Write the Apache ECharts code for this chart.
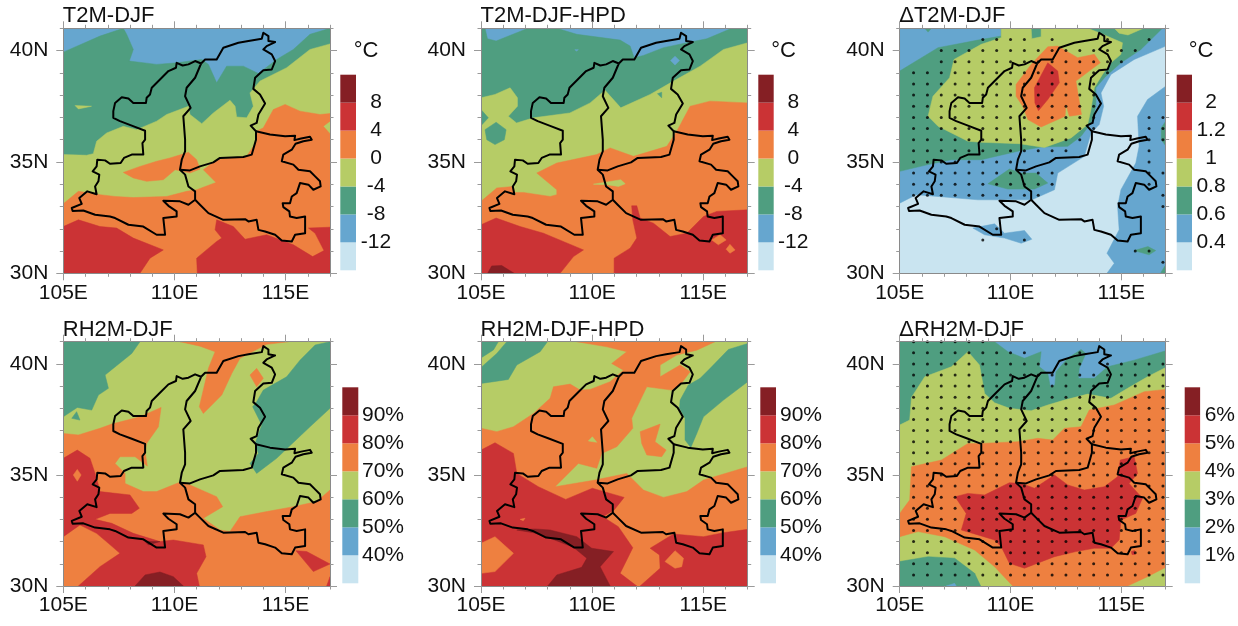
<!DOCTYPE html>
<html><head><meta charset="utf-8">
<style>html,body{margin:0;padding:0;background:#fff}#c{width:1238px;height:626px}</style>
<script src="https://cdn.jsdelivr.net/npm/echarts@6/dist/echarts.min.js"></script>
</head><body><div id="c"></div>
<script>
const lonTicks=[105,110,115], latTicks=[30,35,40];
const bandColors=['#c9e4f0','#66a6cf','#4f9e80','#b6cc66','#ee8040','#cb3335','#851f24'];
const tempLabels=['-12','-8','-4','0','4','8'];
const dTempLabels=['0.4','0.6','0.8','1','1.2','2'];
const rhLabels=['40%','50%','60%','70%','80%','90%'];
const dRhLabels=['1%','2%','3%','4%','5%','6%'];
const titles=['T2M-DJF','T2M-DJF-HPD','\u0394T2M-DJF','RH2M-DJF','RH2M-DJF-HPD','\u0394RH2M-DJF'];

const shaanxi=[[111.2,39.42],[110.93,39.53],[110.63,39.38],[110.37,39.33],[110.1,39.45],[110.07,39.23],[109.73,39.08],[109.35,38.7],[108.98,38.33],[108.9,38.03],[108.75,37.88],[108.72,37.65],[108.15,37.65],[107.93,37.85],[107.63,37.9],[107.33,37.65],[107.25,37.28],[107.25,36.98],[107.55,36.83],[108.08,36.63],[108.68,36.4],[108.68,36],[108.56,35.85],[108.6,35.33],[108.08,35.33],[107.73,35.18],[107.58,34.95],[107.1,34.92],[106.88,35.07],[106.53,35.1],[106.5,34.8],[106.32,34.58],[106.62,34.43],[106.58,34.13],[106.43,33.9],[106.5,33.55],[106.08,33.68],[105.72,33.38],[105.83,33.12],[105.38,32.93],[105.42,32.8],[105.9,32.82],[106.43,32.63],[107.1,32.55],[107.33,32.48],[107.93,32.18],[108.6,32.1],[109.2,31.73],[109.58,31.73],[109.5,32.48],[110.1,32.55],[110.1,32.78],[109.73,33.03],[109.5,33.26],[110.25,33.23],[110.63,33.08],[110.93,33.3],[110.93,33.68],[110.63,33.9],[110.48,34.43],[110.25,34.65],[110.33,35.1],[110.48,35.48],[110.48,36],[110.4,37.05],[110.73,37.43],[110.48,37.95],[110.55,38.33],[110.93,38.78],[111.2,39.42]];
const shanxi=[[111.2,39.42],[111.38,39.6],[111.9,39.6],[112.2,40.13],[112.88,40.35],[113.33,40.43],[113.93,40.53],[114,40.8],[114.23,40.65],[114.23,40.43],[114.53,40.38],[114.15,40.2],[114,40.05],[114.38,39.83],[114.53,39.53],[114.38,39.15],[114,39.12],[113.63,38.78],[113.55,38.28],[113.85,38.03],[114.08,37.62],[113.78,37.13],[113.7,36.75],[113.43,36.63],[113.67,36.38],[113.67,36],[113.48,35.33],[113.1,35.22],[112.05,35.18],[111.75,34.98],[111.15,34.8],[110.7,34.62],[110.25,34.65]];
const henan=[[113.67,36.38],[114.3,36.23],[114.98,36.15],[115.43,36.18],[115.4,35.98],[115.7,36.05],[116.1,36.13],[116.18,36],[115.8,35.93],[115.45,35.82],[115.28,35.55],[114.9,35.33],[114.83,35.03],[115.35,34.88],[115.58,34.65],[116.1,34.58],[116.33,34.35],[116.55,34.13],[116.58,33.9],[116.25,33.75],[116.03,33.98],[115.65,34.05],[115.5,33.6],[115.28,33.45],[115.2,33.15],[114.87,33.15],[114.9,32.97],[115.17,32.78],[115.2,32.55],[115.5,32.48],[115.88,32.55],[115.88,31.8],[115.43,31.73],[115.28,31.43],[114.83,31.47],[114.53,31.73],[114.08,31.88],[113.78,31.95],[113.7,32.4],[113.33,32.33],[113.18,32.43],[112.2,32.4],[111.53,32.7],[111.15,33.08],[110.93,33.3]];

const WHOLE=[[105,30],[117,30],[117,41],[105,41]];
const t2m=[[1,WHOLE],
[2,[[105,39.93],[106.65,40.65],[107.7,41],[107.85,40.73],[108.15,40.05],[107.97,39.53],[109.2,39.38],[110.1,39.45],[111.23,39.6],[111.53,39.38],[111.9,38.55],[112.35,39.3],[113.1,39.3],[113.78,38.97],[114.6,39.6],[115.35,40.05],[116.1,40.73],[117,41],[117,30],[105,30]]],
[3,[[105,35.33],[106.05,35.3],[106.35,35.37],[106.5,35.93],[106.95,36.3],[107.7,36.6],[108.3,36.45],[109.2,36.83],[109.65,37.13],[110.63,37.5],[110.7,37.13],[111.23,36.72],[111.75,37.2],[112.5,37.77],[112.73,37.5],[112.8,37.02],[113.25,36.98],[113.55,37.5],[113.4,38.1],[113.85,38.63],[115.05,39.23],[116.1,40.05],[117,40.3],[117,30],[105,30]]],
[3,[[105.53,37.53],[106.27,37.5],[105.68,37.38]]],
[4,[[105,33.12],[105.68,33.68],[106.65,33.53],[107.33,33.45],[108.15,33.4],[109.65,33.45],[110.55,33.68],[111,33.75],[111.87,34.08],[111.3,34.65],[111.9,35.1],[113.25,35.25],[113.7,35.93],[113.7,36.38],[114,36.53],[114.45,37.35],[114.98,37.58],[115.65,37.28],[116.55,37.13],[117,37.17],[117,36.83],[116.7,36.6],[117,36.27],[117,30],[105,30]]],
[4,[[107.7,34.53],[108.45,34.8],[109.2,35.03],[109.8,35.18],[110.63,35.43],[111,35.1],[111.15,34.68],[110.7,34.5],[110.03,34.65],[109.5,34.2],[108.75,34.13],[108.15,34.28]]],
[5,[[105,32.1],[105.68,32.4],[106.65,32.1],[107.4,32.03],[108.15,31.58],[109.5,31.05],[108.9,30.68],[108.45,30],[105,30]]],
[5,[[111.03,30],[111,30.68],[111.9,31.43],[112.13,31.58],[111.83,31.95],[111.9,32.4],[112.65,32.1],[113.18,31.53],[114.15,31.73],[115.35,31.28],[116.22,30.75],[116.73,31.02],[116.33,31.8],[116.03,32.03],[117,32.07],[117,30]]]];

const t2mHpd=[[1,WHOLE],
[2,[[105.18,41],[105.29,40.53],[105.68,40.43],[107.06,40.98],[108.48,40.98],[109.31,40.73],[111.26,40.47],[111.71,40.2],[111.89,39.68],[112.31,39.78],[113.21,40.13],[114.26,40.35],[115.16,40.53],[116.28,41],[117,41],[117,30],[105,30],[105,41]]],
[1,[[113.73,39.75],[113.93,39.55],[113.73,39.35],[113.53,39.55]]],
[1,[[109.22,40.04],[109.38,40.04],[109.3,39.98]]],
[3,[[105,37.88],[105.63,38.03],[106.31,38.33],[106.64,37.88],[106.64,37.5],[106.23,37.05],[106.6,36.75],[107.36,36.98],[109,37.2],[109.91,37.65],[110.58,38.22],[111.29,37.43],[112.61,38.03],[113.66,38.63],[114.86,39.3],[115.91,40.05],[117,40.35],[117,30],[105,30]]],
[2,[[105,37.35],[105.33,36.98],[105,36.63]]],
[2,[[105.18,36.45],[105.68,36.78],[106.13,36.45],[106.05,36],[105.63,35.78],[105.26,36]]],
[2,[[112.94,38.06],[113.13,38.13],[113.13,37.88]]],
[4,[[105,33.23],[105.71,33.83],[106.46,33.9],[106.49,33.63],[106.91,33.63],[108.11,33.45],[108.41,33.53],[108.41,33.75],[107.51,34.5],[108.41,34.95],[110.21,35.33],[110.81,35.63],[111.86,35.25],[113.36,35.7],[113.81,36.38],[114.41,37.5],[115.31,37.73],[117,37.65],[117,30],[105,30]]],
[3,[[110.06,34],[111.29,34.2],[111.49,34.02],[111.19,33.9],[110.66,33.98]]],
[5,[[105,32.18],[105.68,32.48],[106.76,32.1],[107.81,31.8],[109.61,31.05],[109.16,30.75],[108.56,30],[105,30]]],
[5,[[110.99,30],[110.99,30.68],[111.71,31.13],[112.01,31.58],[111.83,32.4],[111.78,33.03],[112.01,33.03],[112.16,32.48],[112.76,32.25],[113.51,31.65],[114.26,31.8],[115.01,32.55],[115.61,32.78],[117,32.85],[117,30]]],
[4,[[115.38,31.5],[115.76,31.73],[116.03,31.5],[115.68,31.28]]],
[4,[[116.03,31.08],[116.2,31.3],[116.43,31.05],[116.2,30.9]]],
[6,[[105.3,30],[105.48,30.33],[105.93,30.35],[106.49,30]]]];

const dT2m=[[0,WHOLE],
[1,[[105,33.15],[105.75,33.53],[106.73,33.45],[108.53,33.3],[110.18,33.3],[110.96,33.3],[111.98,33.75],[112.13,34.5],[113.33,35.25],[113.63,36.3],[114,36.68],[114.2,37.5],[114.08,38.1],[114.53,38.93],[115.58,39.6],[117,40.2],[117,41],[105,41]]],
[1,[[117,38.4],[116.18,37.8],[115.73,37.05],[115.8,35.7],[115.65,34.95],[114.98,33.75],[114.83,33],[114.9,31.95],[114.35,30.9],[114.68,30.45],[114.35,30],[117,30]]],
[1,[[108.3,32.03],[109.28,32.22],[109.73,31.8],[110.63,31.92],[110.96,31.53],[110.48,31.35],[109.73,31.58],[108.83,31.73]]],
[2,[[105,34.58],[106.28,34.88],[107.33,35.1],[108.68,35.1],[110.33,35.48],[111.38,35.67],[112.58,35.7],[113.18,36.15],[113.63,36.75],[113.85,37.5],[113.85,38.33],[114.3,38.85],[114.98,39.45],[115.88,40.05],[116.85,41],[109.58,41],[109.58,40.65],[108.53,40.47],[106.73,40.13],[105,39.08]]],
[2,[[106.13,41],[106.43,41],[106.28,40.83]]],
[2,[[108.98,34.02],[109.95,34.68],[110.48,34.5],[111.15,34.5],[111.68,34.05],[111.08,33.78],[109.88,33.78]]],
[2,[[117,36.83],[116.8,36.53],[116.8,36],[117,35.73]]],
[2,[[115.58,31.02],[116.2,31.2],[116.55,31.02],[116.25,30.83]]],
[2,[[117,30.38],[116.78,30.03],[117,30]]],
[3,[[106.28,37.05],[106.5,37.95],[107.25,38.78],[107.45,39.6],[108.68,40.28],[109.58,40.58],[109.58,41],[110.93,41],[110.96,40.53],[111.38,40.62],[111.38,41],[113.48,41],[114,40.8],[115.05,40.35],[114.98,39.83],[114.53,39.45],[114.15,38.93],[113.78,38.33],[113.63,37.35],[113.48,36.68],[112.73,36.08],[111.53,35.65],[110.4,35.82],[108.68,35.88],[108.08,35.93],[106.73,36.6]]],
[3,[[114.68,41],[116,41],[115.3,40.7],[114.9,40.78]]],
[4,[[110.25,38.48],[110.93,39.38],[111.68,40.17],[112.13,40.2],[113.03,39.68],[113.78,39.83],[114.05,39.45],[113.55,39.08],[112.95,38.63],[113.2,37.13],[112.65,37.05],[112.5,37.58],[112.46,37.05],[111.38,36.57],[110.78,36.9],[110.55,37.5],[110.25,37.95]]],
[5,[[111.08,38.33],[111.68,39.45],[112.13,39.08],[112.2,38.55],[111.68,37.8],[111.26,37.3],[111.1,37.65]]]];

const rh=[[3,WHOLE],
[2,[[105,41],[108.45,41],[108.08,40.47],[106.88,39.5],[107.03,38.9],[106.58,38.6],[106.28,37.92],[105.63,38.04],[105,37.62]]],
[2,[[105.38,37.55],[105.6,37.85],[105.75,37.47]]],
[2,[[117,41],[116.33,40.85],[115.65,40.17],[115.05,39.42],[114,38.82],[113.7,38.3],[113.52,38.07],[113.93,37.25],[113.63,36.42],[113.78,35.97],[113.4,35.52],[113.7,35.07],[114.6,35.75],[116.1,37.17],[117,38]]],
[4,[[105,36.87],[105.68,36.8],[106.65,37.1],[107.18,37.29],[108.45,37.62],[109.4,38.04],[109.28,37.17],[108.75,36.42],[108.68,36.05],[108.78,35.4],[108.23,35.82],[107.55,35.82],[107.33,35.52],[107.78,35.07],[107.78,34.62],[108.6,34.25],[109.2,34.25],[110.18,34.65],[110.7,34.55],[111.9,34.02],[112.17,33.57],[111.3,33.05],[112.05,32.52],[112.5,32.45],[112.95,33.12],[114.15,33.35],[115.35,33.57],[116.4,33.8],[117,34.32],[117,30],[105,30]]],
[4,[[110.25,41],[115.13,41],[114.15,40.88],[112.95,40.25],[112.58,39.57],[112.13,38.6],[111.3,37.77],[111.12,38.07],[111.53,39.8],[111.83,40.55],[111.15,40.8]]],
[4,[[113.4,39.5],[113.7,39.8],[114,39.35],[113.7,38.97]]],
[5,[[105,35.75],[105.63,36.12],[106.2,35.75],[106.43,35.07],[106.58,34.55],[106.65,34.25],[108,34.1],[108.42,33.5],[108.08,33.27],[107.1,33.27],[106.43,33],[107.18,32.82],[108.15,32.37],[109.35,32],[109.95,32.07],[111.3,31.85],[111.42,31.32],[111,30.57],[111.12,30],[105.68,30],[106.65,30.87],[107.55,31.47],[107.03,31.92],[106.5,32.37],[105.75,32.75],[105,32.22]]],
[4,[[105.45,35],[105.63,35.25],[105.8,35],[105.63,34.72]]],
[5,[[115.47,31.59],[115.95,31.55],[117,30.99],[116.25,30.65]]],
[5,[[116.85,30],[117,30.42],[117,30]]],
[6,[[108.23,30],[108.68,30.5],[109.35,30.63],[109.95,30.42],[110.4,30]]],
[6,[[108.68,32],[109.35,32],[108.83,31.85]]]];

const rhHpd=[[3,WHOLE],
[2,[[105,41],[105.78,41],[105.56,40.63],[105,40.27]]],
[2,[[105,39.84],[105.71,40.47],[106.16,41],[107.99,41],[107.66,40.55],[106.61,39.95],[106.23,39.3],[105.56,39.2],[105,39.12]]],
[2,[[117,40.92],[116.13,40.65],[115.31,39.8],[114.86,39.35],[114.33,39.05],[113.96,38.37],[113.93,38],[114.18,37.55],[114.18,36.57],[114.44,36.24],[114.71,36.87],[115.01,37.62],[115.91,38.37],[117,39.2]]],
[4,[[105,37.1],[105.71,36.95],[106.46,37.17],[107.36,37.77],[108.11,38.45],[108.26,38.97],[109.01,39.09],[109.46,38.82],[109.91,38.85],[110.81,39.2],[111.41,39.72],[110.88,40.02],[111.56,40.55],[110.66,40.77],[109.31,41],[115.53,41],[114.71,40.62],[113.81,40.4],[113.06,39.95],[113.06,39.42],[113.96,39.95],[114.41,39.65],[113.96,39.05],[113.58,38.82],[112.46,38.97],[111.78,37.55],[111.83,37.1],[111.11,36.27],[110.43,35.97],[110.21,35.3],[109.38,35.52],[108.33,34.47],[110.13,34.77],[111.56,35.07],[112.31,34.32],[113.21,33.99],[114.26,34.25],[115.01,34.77],[117,35.37],[117,30],[105,30]]],
[4,[[112.16,36.95],[113.06,37.29],[112.83,36.5],[113.33,36.12],[113.13,35.82],[112.46,35.9],[112.23,36.42]]],
[3,[[109.83,36.53],[110.01,36.72],[110.21,36.47]]],
[5,[[105,36.12],[105.63,36.45],[106.46,35.97],[106.61,35.07],[107.58,34.47],[108.81,33.9],[110.01,34.4],[111.44,33.99],[110.99,33.42],[110.48,33.12],[111.18,32.67],[111.83,31.72],[111.26,30.57],[112.01,30],[105,30]]],
[5,[[112.16,30],[113.06,30.8],[113.03,31.4],[112.61,31.7],[113.66,32.34],[115.01,32.22],[115.91,32.4],[117,32.55],[117,30]]],
[4,[[105,31.92],[105.63,32.22],[106.46,31.47],[105.63,30.65],[105,30.57]]],
[4,[[113.28,31.1],[113.73,31.59],[114.11,31.25],[114.03,30.87],[113.73,30.8]]],
[4,[[106.76,33],[106.98,33.05],[106.9,32.94]]],
[6,[[106.61,32.52],[107.43,32.57],[108.11,32.52],[109.31,32.22],[109.98,31.7],[110.96,31.55],[110.36,30.87],[110.81,30],[108,30],[108.41,30.5],[109.53,30.84],[109.76,31.25],[109.16,31.74],[108.11,32.15],[107.36,32.4]]]];

const dRh=[[1,WHOLE],
[2,[[105,41],[109.28,41],[109.88,40.55],[110.63,40.25],[111.38,40.55],[111.3,39.87],[111.68,39.57],[111.8,38.94],[112,39.05],[112.05,39.65],[112.58,40.25],[113.18,40.65],[113.4,40.47],[113.1,39.8],[113.06,39.35],[113.78,39.35],[114.38,39.87],[115.58,40.17],[117,40.59],[117,30],[105,30]]],
[3,[[105,37.25],[105.45,37.47],[105.53,38.49],[106.13,39.42],[107.33,39.87],[108.08,40.55],[108.6,39.95],[108.83,38.67],[109.28,38.25],[109.95,38],[110.93,37.89],[111.68,38.15],[112.43,38.37],[113.48,38.64],[114.53,38.45],[115.28,38.9],[116.18,39.42],[117,39.84],[117,30],[105,30]]],
[2,[[105,31.1],[106.28,31.32],[107.48,31.25],[108.38,30.57],[108.65,30],[105,30]]],
[1,[[107.1,30],[107.48,30.12],[107.55,30]]],
[4,[[105,33.27],[105.45,33.87],[105.53,35.37],[106.88,35.67],[108.08,36.42],[108.68,36.42],[110.33,36.5],[111.23,36.65],[111.9,36.57],[112.43,37.1],[113.18,37.17],[113.55,37.92],[114.68,38.15],[116.03,38.75],[117,38.85],[117,30.84],[116.18,30.42],[115.28,30],[110.1,30],[109.28,30.87],[108.38,31.62],[107.03,32.22],[105.83,32.45],[105,32.22]]],
[5,[[107.5,34.02],[108.08,34.17],[108.83,34.1],[109.95,34.65],[110.48,34.62],[111.08,34.4],[111.98,35],[112.58,34.55],[113.33,34.32],[114.23,34.47],[114.83,34.92],[114.95,35.67],[115.58,35.82],[115.73,35.07],[115.35,34.62],[115.95,33.95],[115.65,33.27],[114.98,32.97],[114.9,32.07],[114.53,31.7],[113.78,31.7],[112.95,31.55],[111.98,31.32],[110.63,30.8],[109.95,31.02],[109.58,31.77],[109.28,32.07],[108.53,32.3],[107.78,32.52],[108,33.27]]],
[5,[[115.45,31.55],[115.6,31.6],[115.62,31.42],[115.48,31.42]]]];

// stippling: latitude, then runs of grid columns (longitude 105 + column * 0.625)
const dT2mDots=[[40.5,[[6,9],[11,11],[15,15],[18,18]]],[40,[[3,17]]],[39.5,[[3,16]]],[39,[[1,15]]],[38.5,[[1,14]]],[38,[[1,14]]],[37.5,[[1,14]]],[37,[[1,14],[18,19]]],[36.5,[[1,14],[18,19]]],[36,[[1,13],[18,19]]],[35.5,[[1,12],[18,18]]],[35,[[1,9],[18,18]]],[34.5,[[1,11],[18,19]]],[34,[[1,11],[18,18]]],[33.5,[[1,10],[19,19]]],[33,[[19,19]]],[32,[[7,7]]],[31.5,[[6,6],[9,9]]],[31,[[17,18]]],[30.5,[[19,19]]]];
const dRhDots=[[41,[[1,6]]],[40.5,[[1,9],[13,13]]],[40,[[1,10],[12,13],[15,19]]],[39.5,[[1,19]]],[39,[[1,19]]],[38.5,[[1,19]]],[38,[[1,19]]],[37.5,[[1,19]]],[37,[[1,19]]],[36.5,[[1,19]]],[36,[[1,19]]],[35.5,[[1,19]]],[35,[[1,19]]],[34.5,[[1,19]]],[34,[[1,19]]],[33.5,[[1,19]]],[33,[[1,19]]],[32.5,[[1,19]]],[32,[[1,19]]],[31.5,[[1,19]]],[31,[[1,19]]],[30.5,[[1,19]]]];

const FONT='"Liberation Sans"';
const panels=[
 {regions:t2m,labels:tempLabels,unit:'\u00b0C',rect:[63.3,28.3,266.7,245],bar:[340.3,74.7,15.7,195.6],center:376,unitX:366,unitY:40},
 {regions:t2mHpd,labels:tempLabels,unit:'\u00b0C',rect:[481,28.3,266.7,245],bar:[758.3,74.7,15.4,195.6],center:793.3,unitX:783.5,unitY:40},
 {regions:dT2m,dots:dT2mDots,labels:dTempLabels,unit:'\u00b0C',rect:[899.7,28.3,266,245],bar:[1176.7,74.7,15.3,195.6],center:1211,unitX:1201,unitY:40},
 {regions:rh,labels:rhLabels,rect:[63.3,341.7,266.7,244.3],bar:[342.3,387.3,16,196],center:383},
 {regions:rhHpd,labels:rhLabels,rect:[481,341.7,266.7,244.3],bar:[760.3,387.3,15.7,196],center:801},
 {regions:dRh,dots:dRhDots,labels:dRhLabels,rect:[899.7,341.7,266,244.3],bar:[1184.7,387.3,15.6,196],center:1220}
];

const grid=[],xAxis=[],yAxis=[],series=[],title=[];
const tickColor='#9a9a9a';
function ax(gi,pos,min,max,major,labels,fmt){
  const base={type:'value',gridIndex:gi,position:pos,min,max,z:10,splitLine:{show:false},
    axisLine:{show:true,onZero:false,lineStyle:{color:'#8a8a8a',width:1}}};
  if(major){
    base.axisTick={show:true,length:7,customValues:labels,lineStyle:{color:tickColor,width:1}};
    base.axisLabel=(pos==='bottom'||pos==='left')?{show:true,customValues:labels,formatter:fmt,color:'#111',fontFamily:FONT,fontSize:21,margin:pos==='left'?15:9,padding:pos==='left'?[2,0,0,0]:0}:{show:false};
  }else{
    base.interval=1;
    base.axisTick={show:true,length:3.5,lineStyle:{color:tickColor,width:1}};
    base.axisLabel={show:false};
  }
  return base;
}
panels.forEach((p,i)=>{
  const [l,t,w,h]=p.rect;
  const g0=grid.length;
  grid.push({left:l,top:t,width:w,height:h},{left:l,top:t,width:w,height:h});
  const xi=xAxis.length, yi=yAxis.length;
  xAxis.push(ax(g0,'bottom',105,117,false),ax(g0,'top',105,117,false),
             ax(g0+1,'bottom',105,117,true,lonTicks,v=>v+'E'),ax(g0+1,'top',105,117,true,lonTicks));
  yAxis.push(ax(g0,'left',30,41,false),ax(g0,'right',30,41,false),
             ax(g0+1,'left',30,41,true,latTicks,v=>v+'N'),ax(g0+1,'right',30,41,true,latTicks));
  const regs=p.regions;
  series.push({type:'custom',coordinateSystem:'cartesian2d',xAxisIndex:xi,yAxisIndex:yi,z:1,silent:true,animation:false,clip:true,
    data:regs.map((r,k)=>[k]),encode:{x:-1,y:-1},
    renderItem:(params,api)=>{
      const r=regs[params.dataIndex];
      return {type:'polygon',shape:{points:r[1].map(c=>api.coord(c))},style:{fill:bandColors[r[0]],stroke:bandColors[r[0]],lineWidth:0.5}};
    }});
  if(p.dots){
    const pts=[];
    p.dots.forEach(([lat,runs])=>runs.forEach(([a,b])=>{for(let k=a;k<=b;k++)pts.push([105+k*0.625,lat]);}));
    series.push({type:'scatter',xAxisIndex:xi,yAxisIndex:yi,z:3,silent:true,animation:false,symbol:'circle',symbolSize:3,itemStyle:{color:'#000'},data:pts});
  }
  [shaanxi,shanxi,henan].forEach(b=>series.push({type:'line',xAxisIndex:xi,yAxisIndex:yi,z:4,silent:true,animation:false,showSymbol:false,symbol:'none',
    lineStyle:{color:'#000',width:2,join:'round'},data:b}));

  // colour bar
  const [bl,bt,bw,bh]=p.bar, gb=grid.length;
  grid.push({left:bl,top:bt,width:bw,height:bh});
  const bx=xAxis.length, by=yAxis.length;
  xAxis.push({type:'value',gridIndex:gb,min:0,max:1,show:false});
  yAxis.push({type:'value',gridIndex:gb,position:'right',min:0,max:7,interval:1,splitLine:{show:false},axisLine:{show:false},axisTick:{show:false},
    axisLabel:{show:true,color:'#111',fontFamily:FONT,fontSize:21,align:'center',margin:p.center-bl-bw,showMinLabel:false,showMaxLabel:false,
      formatter:v=>p.labels[v-1]||'',padding:[13,0,0,0]}});
  series.push({type:'custom',coordinateSystem:'cartesian2d',xAxisIndex:bx,yAxisIndex:by,silent:true,animation:false,
    data:bandColors.map((c,k)=>[k]),encode:{x:-1,y:-1},
    renderItem:(params,api)=>{
      const k=params.dataIndex, a=api.coord([0,k]), b=api.coord([1,k+1]);
      return {type:'rect',shape:{x:a[0],y:b[1],width:b[0]-a[0],height:a[1]-b[1]},style:{fill:bandColors[k]}};
    }});
  title.push({text:titles[i],left:l-0.5,top:t-23,textStyle:{fontFamily:FONT,fontSize:22,fontWeight:'normal',color:'#111'},padding:0});
  if(p.unit) title.push({text:p.unit,left:p.unitX,top:p.unitY,textAlign:'center',textStyle:{fontFamily:FONT,fontSize:22,fontWeight:'normal',color:'#111'},padding:0});
});
const chart=echarts.init(document.getElementById('c'),null,{renderer:'canvas'});
chart.setOption({animation:false,backgroundColor:'#fff',title,grid,xAxis,yAxis,series,tooltip:{show:false}});
</script></body></html>
